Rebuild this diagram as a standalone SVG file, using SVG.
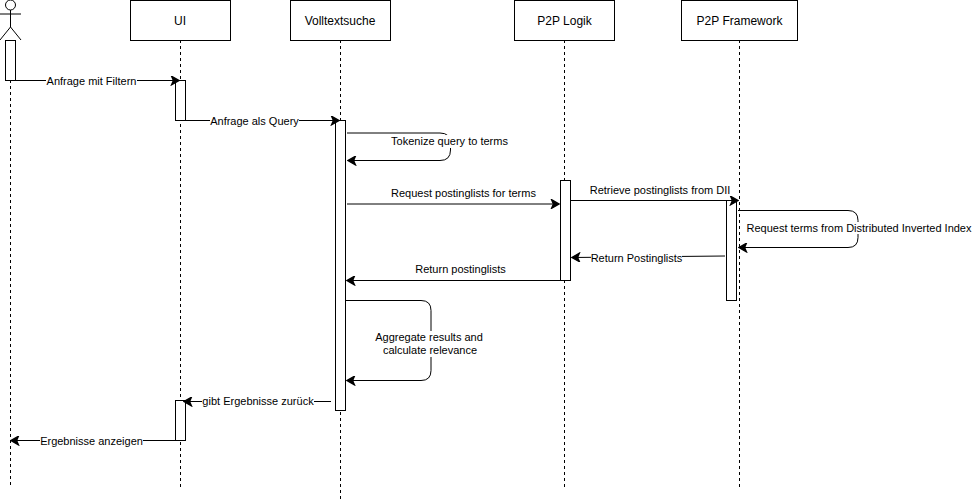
<svg xmlns="http://www.w3.org/2000/svg" width="972" height="501" viewBox="0 0 972 501">
<style>
text{font-family:"Liberation Sans",Arial,sans-serif;font-size:11px;fill:#000;text-anchor:middle}
.t{font-size:12px}
.box,.act{fill:#fff;stroke:#000;stroke-width:1}
.life{fill:none;stroke:#000;stroke-width:1;stroke-dasharray:3 3}
.m{fill:none;stroke:#000;stroke-width:1;marker-end:url(#a)}
.bg{fill:#fff;stroke:none}
</style>
<defs><marker id="a" markerUnits="userSpaceOnUse" markerWidth="10" markerHeight="10" refX="7" refY="4" orient="auto" viewBox="0 0 8 8"><path d="M1 .5L7 4L1 7.5L2.5 4Z" fill="#000" stroke="#000"/></marker></defs>
<g id="actor"><path class="life" d="M10.500 80V487"/><circle cx="10.500" cy="5" r="5" fill="#fff" stroke="#000"/><path d="M10.500 10V27M0 14H21M10.500 27L0 40M10.500 27L21 40" fill="none" stroke="#000"/><rect class="act" x="5.500" y="40.500" width="10" height="40"/></g>
<g id="ui"><path class="life" d="M180.500 40V487"/><rect class="box" x="130.500" y="0.500" width="100" height="40"/><text class="t" x="180" y="25">UI</text><rect class="act" x="175.500" y="80.500" width="10" height="40"/><rect class="act" x="175.500" y="400.500" width="10" height="40"/></g>
<g id="volltextsuche"><path class="life" d="M340.500 40V499"/><rect class="box" x="290.500" y="0.500" width="100" height="40"/><text class="t" x="340" y="25">Volltextsuche</text><rect class="act" x="335.500" y="120.500" width="10" height="290"/></g>
<g id="p2p-logik"><path class="life" d="M564.500 40V487"/><rect class="box" x="514.500" y="0.500" width="100" height="40"/><text class="t" x="564.500" y="25">P2P Logik</text><rect class="act" x="560.500" y="180.500" width="10" height="100"/></g>
<g id="p2p-framework"><path class="life" d="M739.500 40V487"/><rect class="box" x="681.500" y="0.500" width="116" height="40"/><text class="t" x="739.500" y="25">P2P Framework</text><rect class="act" x="726.500" y="200.500" width="10" height="100"/></g>
<g id="connectors">
<path class="m" d="M15.500 80.500H179"/><rect class="bg" x="46" y="75" width="91" height="12"/><text x="91.500" y="85">Anfrage mit Filtern</text>
<path class="m" d="M185.500 120.500H339"/><rect class="bg" x="210" y="115" width="89" height="12"/><text x="254.500" y="125">Anfrage als Query</text>
<path class="m" d="M347 133H440Q450.500 133 450.500 143.500V150Q450.500 160.500 440 160.500H348"/><rect class="bg" x="391" y="135" width="118" height="13"/><text x="449.500" y="145">Tokenize query to terms</text>
<path class="m" d="M347 204H559"/><text x="463.500" y="197">Request postinglists for terms</text>
<path class="m" d="M570.500 200.500H738"/><text x="660" y="194">Retrieve postinglists from DII</text>
<path class="m" d="M738 210.500H848Q858 210.500 858 220.500V237.500Q858 247.500 848 247.500H739"/><rect class="bg" x="747" y="222" width="225" height="12"/><text x="859" y="232">Request terms from Distributed Inverted Index</text>
<path class="m" d="M725 256L572 257.500"/><rect class="bg" x="591" y="252" width="91" height="12"/><text x="636.500" y="262">Return Postinglists</text>
<path class="m" d="M565 280.500H347"/><text x="460.500" y="273">Return postinglists</text>
<path class="m" d="M346 300.500H421Q431 300.500 431 310.500V370.500Q431 380.500 421 380.500H347"/><rect class="bg" x="375" y="331" width="108" height="26"/><text x="429" y="341">Aggregate results and</text><text x="430" y="354">calculate relevance</text>
<path class="m" d="M331 401.500H184"/><rect class="bg" x="202" y="396" width="112" height="12"/><text x="258" y="405">gibt Ergebnisse zurück</text>
<path class="m" d="M175.500 440.500H11"/><rect class="bg" x="40" y="435" width="103" height="12"/><text x="91.500" y="445">Ergebnisse anzeigen</text>
</g>
</svg>
